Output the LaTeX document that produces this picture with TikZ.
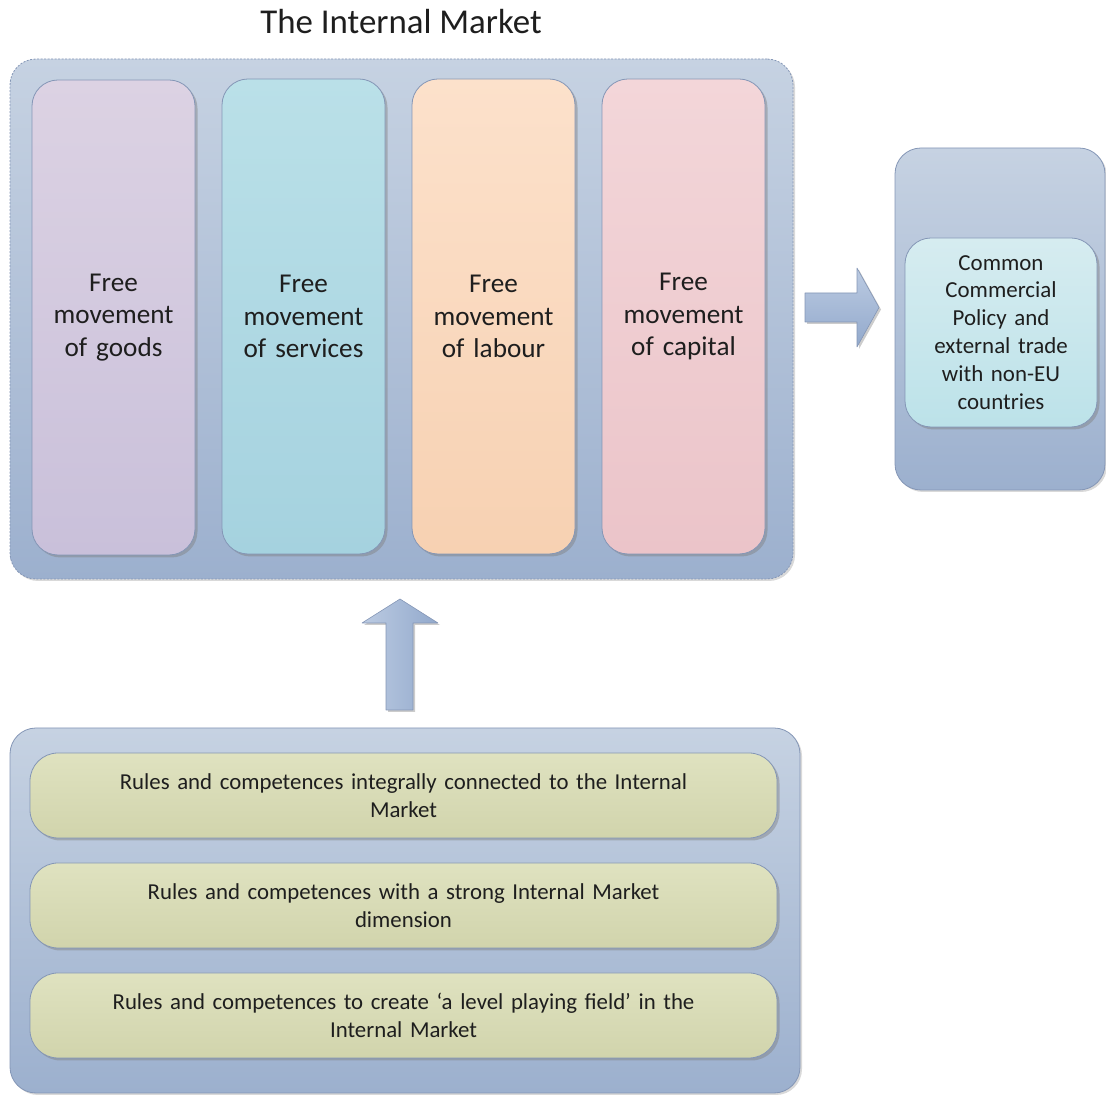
\documentclass[tikz,border=0pt]{standalone}
\usepackage{fontspec}
\setmainfont{Carlito}
\usetikzlibrary{shadows}
\definecolor{paneltop}{HTML}{C6D2E2}
\definecolor{panelbot}{HTML}{9CB0CE}
\definecolor{panelline}{HTML}{8496B6}
\definecolor{goodstop}{HTML}{DCD2E3}
\definecolor{goodsbot}{HTML}{C9C0DA}
\definecolor{servtop}{HTML}{BAE0E8}
\definecolor{servbot}{HTML}{A5D2DF}
\definecolor{labtop}{HTML}{FCE1CB}
\definecolor{labbot}{HTML}{F7D1B2}
\definecolor{captop}{HTML}{F3D6D9}
\definecolor{capbot}{HTML}{EBC4C9}
\definecolor{ruletop}{HTML}{DFE2C0}
\definecolor{rulebot}{HTML}{D1D4AC}
\definecolor{tradetop}{HTML}{D6ECF0}
\definecolor{tradebot}{HTML}{BCE2E9}
\definecolor{arrowtop}{HTML}{BCCBE2}
\definecolor{arrowbot}{HTML}{92A9CC}
\definecolor{inktext}{HTML}{1E1E1E}
\tikzset{
  panel/.style={draw=panelline,line width=0.8bp,rounded corners=26bp,top color=paneltop,bottom color=panelbot,inner sep=0pt},
  colbox/.style={draw=panelline,line width=0.8bp,rounded corners=26bp,inner sep=0pt,minimum width=163bp,minimum height=475bp,
    drop shadow={shadow xshift=2.5bp,shadow yshift=-2.5bp,opacity=0.45},text width=155bp,align=center,
    font=\fontsize{27.3}{32.5}\selectfont,text=inktext},
  rulebox/.style={draw=panelline,line width=0.8bp,rounded corners=28bp,inner sep=0pt,minimum width=747bp,minimum height=85bp,
    top color=ruletop,bottom color=rulebot,drop shadow={shadow xshift=2.5bp,shadow yshift=-2.5bp,opacity=0.45},
    text width=720bp,align=center,font=\fontsize{22.9}{28}\selectfont,text=inktext},
  blockarrow/.style={draw=panelline,line width=0.6bp,
    drop shadow={shadow xshift=2bp,shadow yshift=-2bp,opacity=0.4}},
}
\begin{document}
\begin{tikzpicture}[line join=bevel,]
\useasboundingbox (0bp,0bp) rectangle (1106bp,1095bp);
%%
\node (node_title) at (401.0bp,1073.0bp) [draw=none,font=\fontsize{35}{40}\selectfont,text=inktext] {The Internal Market};
  \node (node_0) at (401.5bp,776.0bp) [panel,dash pattern=on 2bp off 1.5bp,minimum width=783bp,minimum height=520bp,
    drop shadow={shadow xshift=2bp,shadow yshift=-2bp,opacity=0.3}] {};
  \node (node_1) at (113.5bp,777.5bp) [colbox,top color=goodstop,bottom color=goodsbot] {Free\\movement\\of goods};
  \node (node_2) at (303.5bp,778.5bp) [colbox,top color=servtop,bottom color=servbot] {Free\\movement\\of services};
  \node (node_3) at (493.5bp,778.5bp) [colbox,top color=labtop,bottom color=labbot] {Free\\movement\\of labour};
  \node (node_4) at (683.5bp,778.5bp) [colbox,top color=captop,bottom color=capbot] {Free\\movement\\of capital};
%
  \node (node_5) at (1000.0bp,776.0bp) [panel,minimum width=210bp,minimum height=342bp,
    drop shadow={shadow xshift=2bp,shadow yshift=-2bp,opacity=0.3}] {};
  \node (node_6) at (1001.0bp,762.5bp) [draw=panelline,line width=0.8bp,rounded corners=26bp,inner sep=0pt,
    minimum width=192bp,minimum height=189bp,top color=tradetop,bottom color=tradebot,
    drop shadow={shadow xshift=2.5bp,shadow yshift=-2.5bp,opacity=0.45},text width=185bp,align=center,
    font=\fontsize{23}{28}\selectfont,text=inktext] {Common\\Commercial\\Policy and\\external trade\\with non-EU\\countries};
%
  \node (node_7) at (405.0bp,184.5bp) [panel,minimum width=790bp,minimum height=365bp,
    drop shadow={shadow xshift=2bp,shadow yshift=-2bp,opacity=0.3}] {};
  \node (node_8) at (403.5bp,299.5bp) [rulebox] {Rules and competences integrally connected to the Internal\\Market};
  \node (node_9) at (403.5bp,189.5bp) [rulebox] {Rules and competences with a strong Internal Market\\dimension};
  \node (node_10) at (403.5bp,79.5bp) [rulebox] {Rules and competences to create `a level playing field' in the\\Internal Market};
%
  \draw [blockarrow,top color=arrowtop,bottom color=arrowbot] (805bp,802bp) -- (857bp,802bp) -- (857bp,827bp) -- (879bp,787.5bp)
    -- (857bp,748bp) -- (857bp,773bp) -- (805bp,773bp) -- cycle;
  \draw [blockarrow,left color=arrowtop,right color=arrowbot] (386bp,385bp) -- (386bp,472bp) -- (362bp,472bp) -- (400bp,496bp)
    -- (438bp,472bp) -- (413bp,472bp) -- (413bp,385bp) -- cycle;
%
\end{tikzpicture}
\end{document}
